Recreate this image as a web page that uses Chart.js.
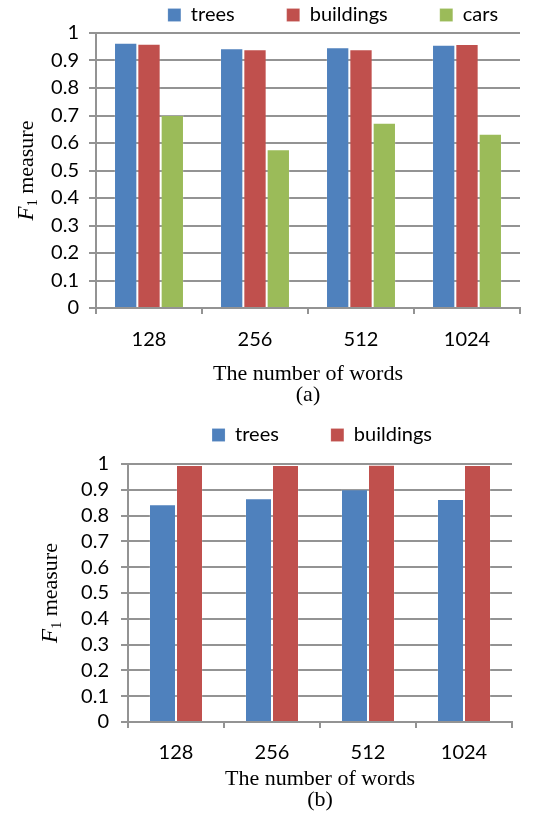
<!DOCTYPE html>
<html><head><meta charset="utf-8">
<script src="https://cdn.jsdelivr.net/npm/chart.js@4/dist/chart.umd.min.js"></script>
<style>
html,body{margin:0;padding:0;background:#fff;}
#wrap{position:relative;width:550px;height:828px;background:#fff;}
.box{position:absolute;left:0;width:550px;}
</style></head><body>
<div id="wrap">
<div class="box" style="top:0;height:410px"><canvas id="ca"></canvas></div>
<div class="box" style="top:410px;height:418px"><canvas id="cb"></canvas></div>
</div>
<script>
const categories = ['128', '256', '512', '1024'];
const yTickLabels = ['0', '0.1', '0.2', '0.3', '0.4', '0.5', '0.6', '0.7', '0.8', '0.9', '1'];
const treesA = [0.965, 0.945, 0.948, 0.957];
const buildingsA = [0.961, 0.941, 0.941, 0.960];
const carsA = [0.702, 0.577, 0.674, 0.634];
const treesB = [0.844, 0.867, 0.902, 0.864];
const buildingsB = [0.996, 0.996, 0.997, 0.996];
const xTitleA = ['The number of words', '(a)'];
const xTitleB = ['The number of words', '(b)'];

const BLUE = '#4F81BD', RED = '#C0504D', GREEN = '#9BBB59';
const GRID = '#939393';
const TICKFONT = {family: 'Lato', size: 20};

const legendShift = {
  id: 'legendShift',
  afterLayout(chart, args, opts) {
    const lg = chart.legend;
    if (!lg || opts.cx === undefined) return;
    const dx = opts.cx - (lg.left + lg.right) / 2;
    const dy = opts.y - (lg.top + lg.options.labels.padding);
    lg.left += dx; lg.right += dx;
    lg.top += dy;
    lg.bottom = Math.max(lg.bottom, opts.y + 30);
    lg.height = lg.bottom - lg.top;
  }
};

const yTitle = {
  id: 'yTitle',
  afterDraw(chart, args, opts) {
    const ctx = chart.ctx;
    const a = chart.chartArea;
    const cy = (a.top + a.bottom) / 2;
    ctx.save();
    ctx.translate(opts.x, cy);
    ctx.rotate(-Math.PI / 2);
    ctx.fillStyle = '#000';
    ctx.textBaseline = 'alphabetic';
    ctx.textAlign = 'left';
    const fMain = 'italic 23px "Liberation Serif"';
    const fSub = '14px "Liberation Serif"';
    const fRest = '22px "Liberation Serif"';
    ctx.font = fMain; const w1 = ctx.measureText('F').width;
    ctx.font = fSub; const w2 = ctx.measureText('1').width;
    ctx.font = fRest; const w3 = ctx.measureText(' measure').width;
    let x = -(w1 + w2 + w3) / 2;
    ctx.font = fMain; ctx.fillText('F', x, 0); x += w1;
    ctx.font = fSub; ctx.fillText('1', x, 4); x += w2;
    ctx.font = fRest; ctx.fillText(' measure', x, 0);
    ctx.restore();
  }
};

function makeDataset(label, data, color) {
  return {label, data, backgroundColor: color, borderColor: 'rgba(255,255,255,0.15)', borderWidth: 1,
          barPercentage: 1.0};
}

function makeChart(id, datasets, cfg) {
  return new Chart(document.getElementById(id), {
    type: 'bar',
    data: {labels: categories, datasets: datasets.map(d => Object.assign(d, {categoryPercentage: cfg.catPct}))},
    plugins: [legendShift, yTitle],
    options: {
      responsive: true,
      maintainAspectRatio: false,
      animation: false,
      layout: {padding: {left: 0, right: cfg.padRight, top: 0, bottom: cfg.padBottom}},
      plugins: {
        legend: {
          display: true,
          position: 'top',
          maxHeight: cfg.legendHeight,
          labels: {font: TICKFONT, color: '#000', boxWidth: 13, boxHeight: 13, padding: 52}
        },
        tooltip: {enabled: false},
        legendShift: {cx: cfg.legendCx, y: cfg.legendY},
        yTitle: {x: cfg.yTitleX}
      },
      scales: {
        x: {
          grid: {display: true, drawOnChartArea: false, drawTicks: true, tickLength: 6, color: GRID, lineWidth: 2, offset: true},
          border: {display: true, color: GRID, width: 2},
          ticks: {font: TICKFONT, color: '#000', padding: cfg.xTickPad},
          title: {display: true, text: cfg.xTitle, color: '#000',
                  font: {family: 'Liberation Serif', size: 22, lineHeight: 0.92}, padding: {top: 0, bottom: 0}},
          afterFit(scale) { scale.height = cfg.xAxisHeight; }
        },
        y: {
          min: 0, max: 1,
          grid: {display: true, drawTicks: true, tickLength: 7, color: GRID, lineWidth: 2},
          border: {display: true, color: GRID, width: 2},
          ticks: {stepSize: 0.1, autoSkip: false, font: TICKFONT, color: '#000', padding: cfg.yTickPad,
                  callback: (v, i) => yTickLabels[i]},
          afterFit(scale) { scale.width = cfg.yAxisWidth; }
        }
      }
    }
  });
}

makeChart('ca', [
  makeDataset('trees', treesA, BLUE),
  makeDataset('buildings', buildingsA, RED),
  makeDataset('cars', carsA, GREEN)
], {catPct: 0.66, padRight: 30, padBottom: 5, legendHeight: 33, legendCx: 333, legendY: 5,
    yTitleX: 33, xTickPad: 14, yTickPad: 10, xAxisHeight: 97, yAxisWidth: 96, xTitle: xTitleA});

makeChart('cb', [
  makeDataset('trees', treesB, BLUE),
  makeDataset('buildings', buildingsB, RED)
], {catPct: 0.5625, padRight: 38, padBottom: 18, legendHeight: 54, legendCx: 322, legendY: 15,
    yTitleX: 57, xTickPad: 13, yTickPad: 12, xAxisHeight: 88, yAxisWidth: 128, xTitle: xTitleB});
</script>
</body></html>
